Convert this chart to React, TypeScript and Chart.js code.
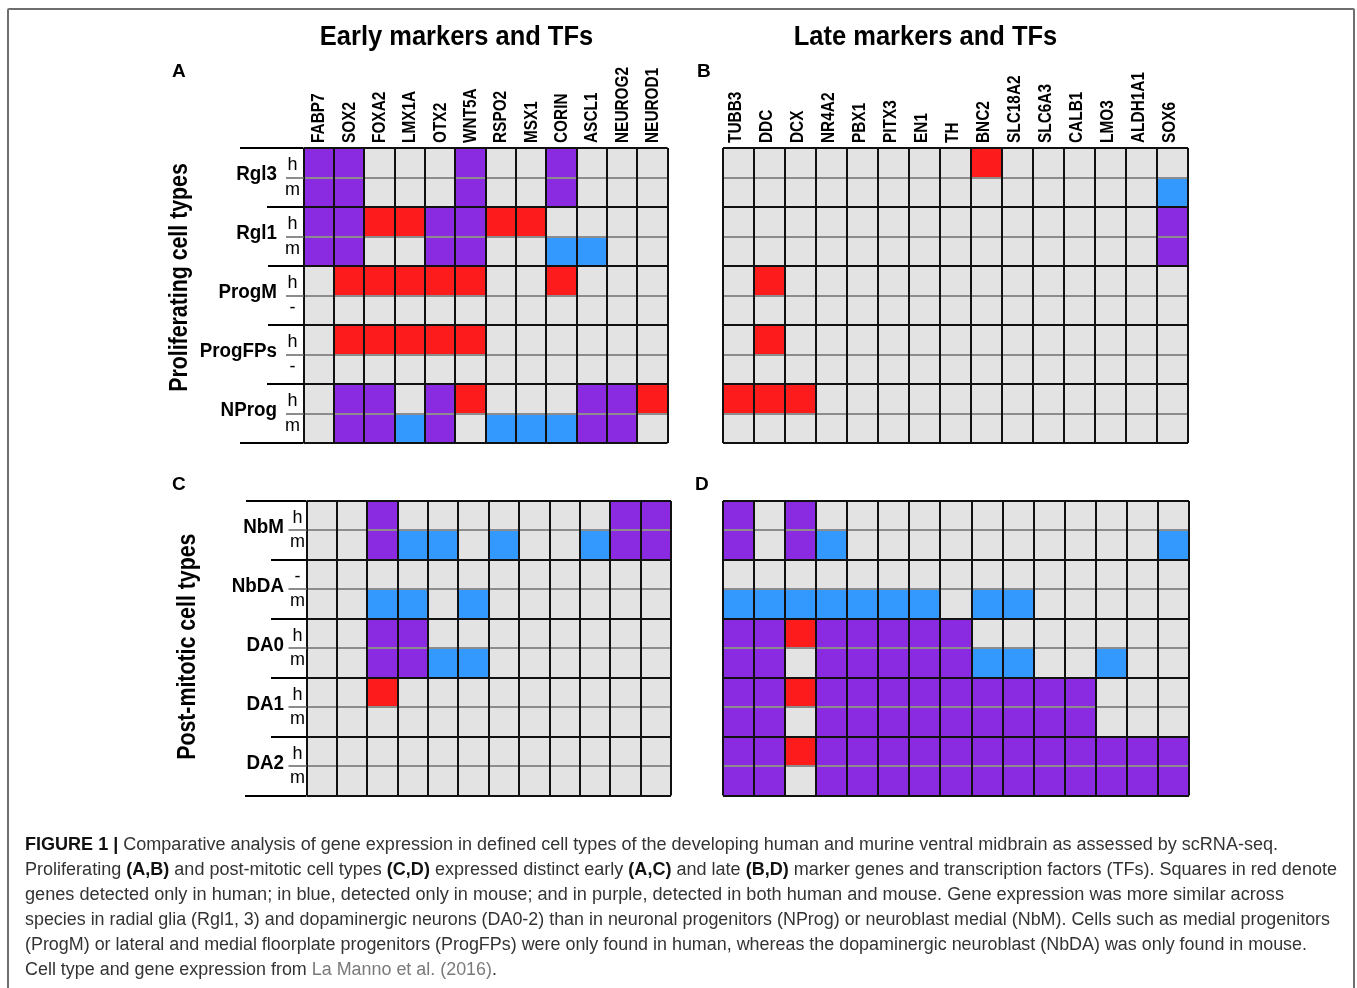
import React, { useEffect, useRef } from "react";
import { Chart, registerables } from "chart.js";
Chart.register(...registerables);

// ---------- data ----------
const earlyGenes = ["FABP7", "SOX2", "FOXA2", "LMX1A", "OTX2", "WNT5A", "RSPO2", "MSX1", "CORIN", "ASCL1", "NEUROG2", "NEUROD1"];
const lateGenes = ["TUBB3", "DDC", "DCX", "NR4A2", "PBX1", "PITX3", "EN1", "TH", "BNC2", "SLC18A2", "SLC6A3", "CALB1", "LMO3", "ALDH1A1", "SOX6"];

const proliferatingTypes = ["Rgl3", "Rgl1", "ProgM", "ProgFPs", "NProg"];
const proliferatingSpecies = ["h", "m", "h", "m", "h", "-", "h", "-", "h", "m"];
const postMitoticTypes = ["NbM", "NbDA", "DA0", "DA1", "DA2"];
const postMitoticSpecies = ["h", "m", "-", "m", "h", "m", "h", "m", "h", "m"];

// 0 = not detected, 1 = human only, 2 = mouse only, 3 = both
const earlyProliferating = [
  [3, 3, 0, 0, 0, 3, 0, 0, 3, 0, 0, 0],
  [3, 3, 0, 0, 0, 3, 0, 0, 3, 0, 0, 0],
  [3, 3, 1, 1, 3, 3, 1, 1, 0, 0, 0, 0],
  [3, 3, 0, 0, 3, 3, 0, 0, 2, 2, 0, 0],
  [0, 1, 1, 1, 1, 1, 0, 0, 1, 0, 0, 0],
  [0, 0, 0, 0, 0, 0, 0, 0, 0, 0, 0, 0],
  [0, 1, 1, 1, 1, 1, 0, 0, 0, 0, 0, 0],
  [0, 0, 0, 0, 0, 0, 0, 0, 0, 0, 0, 0],
  [0, 3, 3, 0, 3, 1, 0, 0, 0, 3, 3, 1],
  [0, 3, 3, 2, 3, 0, 2, 2, 2, 3, 3, 0],
];
const lateProliferating = [
  [0, 0, 0, 0, 0, 0, 0, 0, 1, 0, 0, 0, 0, 0, 0],
  [0, 0, 0, 0, 0, 0, 0, 0, 0, 0, 0, 0, 0, 0, 2],
  [0, 0, 0, 0, 0, 0, 0, 0, 0, 0, 0, 0, 0, 0, 3],
  [0, 0, 0, 0, 0, 0, 0, 0, 0, 0, 0, 0, 0, 0, 3],
  [0, 1, 0, 0, 0, 0, 0, 0, 0, 0, 0, 0, 0, 0, 0],
  [0, 0, 0, 0, 0, 0, 0, 0, 0, 0, 0, 0, 0, 0, 0],
  [0, 1, 0, 0, 0, 0, 0, 0, 0, 0, 0, 0, 0, 0, 0],
  [0, 0, 0, 0, 0, 0, 0, 0, 0, 0, 0, 0, 0, 0, 0],
  [1, 1, 1, 0, 0, 0, 0, 0, 0, 0, 0, 0, 0, 0, 0],
  [0, 0, 0, 0, 0, 0, 0, 0, 0, 0, 0, 0, 0, 0, 0],
];
const earlyPostMitotic = [
  [0, 0, 3, 0, 0, 0, 0, 0, 0, 0, 3, 3],
  [0, 0, 3, 2, 2, 0, 2, 0, 0, 2, 3, 3],
  [0, 0, 0, 0, 0, 0, 0, 0, 0, 0, 0, 0],
  [0, 0, 2, 2, 0, 2, 0, 0, 0, 0, 0, 0],
  [0, 0, 3, 3, 0, 0, 0, 0, 0, 0, 0, 0],
  [0, 0, 3, 3, 2, 2, 0, 0, 0, 0, 0, 0],
  [0, 0, 1, 0, 0, 0, 0, 0, 0, 0, 0, 0],
  [0, 0, 0, 0, 0, 0, 0, 0, 0, 0, 0, 0],
  [0, 0, 0, 0, 0, 0, 0, 0, 0, 0, 0, 0],
  [0, 0, 0, 0, 0, 0, 0, 0, 0, 0, 0, 0],
];
const latePostMitotic = [
  [3, 0, 3, 0, 0, 0, 0, 0, 0, 0, 0, 0, 0, 0, 0],
  [3, 0, 3, 2, 0, 0, 0, 0, 0, 0, 0, 0, 0, 0, 2],
  [0, 0, 0, 0, 0, 0, 0, 0, 0, 0, 0, 0, 0, 0, 0],
  [2, 2, 2, 2, 2, 2, 2, 0, 2, 2, 0, 0, 0, 0, 0],
  [3, 3, 1, 3, 3, 3, 3, 3, 0, 0, 0, 0, 0, 0, 0],
  [3, 3, 0, 3, 3, 3, 3, 3, 2, 2, 0, 0, 2, 0, 0],
  [3, 3, 1, 3, 3, 3, 3, 3, 3, 3, 3, 3, 0, 0, 0],
  [3, 3, 0, 3, 3, 3, 3, 3, 3, 3, 3, 3, 0, 0, 0],
  [3, 3, 1, 3, 3, 3, 3, 3, 3, 3, 3, 3, 3, 3, 3],
  [3, 3, 0, 3, 3, 3, 3, 3, 3, 3, 3, 3, 3, 3, 3],
];

const COLORS = ["#e3e3e3", "#fe1b1b", "#3399fe", "#8a2be2"];

// ---------- layout ----------
const W = 1357;
const H = 988;
const FONT = '"Liberation Sans", Arial, sans-serif';

type Panel = {
  genes: string[];
  matrix: number[][];
  grid: { l: number; t: number; r: number; b: number };
  letter: { text: string; x: number; y: number };
  title?: { text: string; x: number; y: number };
  showGenes?: boolean;
  geneDx?: number;
  types?: string[];
  species?: string[];
  labelRight?: number;
  hmX?: number;
  fracStart?: number;
  sepStarts?: number[];
  yTitle?: { text: string; x: number; cy: number };
};

const panels: Panel[] = [
  {
    genes: earlyGenes,
    matrix: earlyProliferating,
    grid: { l: 303.5, t: 148, r: 667.5, b: 443 },
    letter: { text: "A", x: 172, y: 77 },
    title: { text: "Early markers and TFs", x: 456.5, y: 45 },
    showGenes: true,
    geneDx: 5.5,
    types: proliferatingTypes,
    species: proliferatingSpecies,
    labelRight: 277,
    hmX: 292.5,
    fracStart: 286,
    sepStarts: [240, 267, 268, 268, 267, 240],
    yTitle: { text: "Proliferating cell types", x: 187, cy: 277.5 },
  },
  {
    genes: lateGenes,
    matrix: lateProliferating,
    grid: { l: 723, t: 148, r: 1188, b: 443 },
    letter: { text: "B", x: 697, y: 77 },
    title: { text: "Late markers and TFs", x: 925.5, y: 45 },
    showGenes: true,
    geneDx: 2.5,
  },
  {
    genes: earlyGenes,
    matrix: earlyPostMitotic,
    grid: { l: 306.5, t: 500.5, r: 671, b: 795.5 },
    letter: { text: "C", x: 172, y: 490 },
    types: postMitoticTypes,
    species: postMitoticSpecies,
    labelRight: 284,
    hmX: 297.5,
    fracStart: 288.5,
    sepStarts: [246, 271, 271, 271, 271, 245],
    yTitle: { text: "Post-mitotic cell types", x: 195.3, cy: 646.7 },
  },
  {
    genes: lateGenes,
    matrix: latePostMitotic,
    grid: { l: 723, t: 500.5, r: 1189, b: 795.5 },
    letter: { text: "D", x: 695, y: 490 },
  },
];

function txt(
  ctx: CanvasRenderingContext2D,
  s: string,
  x: number,
  y: number,
  font: string,
  sx: number,
  align: CanvasTextAlign,
  rot = 0,
  color = "#000"
) {
  ctx.save();
  ctx.translate(x, y);
  if (rot) ctx.rotate(rot);
  ctx.scale(sx, 1);
  ctx.font = font;
  ctx.textAlign = align;
  ctx.textBaseline = "alphabetic";
  ctx.fillStyle = color;
  ctx.fillText(s, 0, 0);
  ctx.restore();
}

function makePlugin(p: Panel) {
  return {
    id: "panelLabels",
    afterDraw(chart: any) {
      const ctx: CanvasRenderingContext2D = chart.ctx;
      const xs = chart.scales.x;
      const ys = chart.scales.y;
      const area = chart.chartArea;
      ctx.save();
      if (p.title) txt(ctx, p.title.text, p.title.x, p.title.y, `bold 28px ${FONT}`, 0.91, "center");
      txt(ctx, p.letter.text, p.letter.x, p.letter.y, `bold 19px ${FONT}`, 1, "left");
      if (p.showGenes) {
        p.genes.forEach((g, j) => {
          const cx = xs.getPixelForValue(j);
          txt(ctx, g, cx + (p.geneDx || 0), area.top - 5, `bold 19px ${FONT}`, 0.81, "left", -Math.PI / 2);
        });
      }
      if (p.types && p.species) {
        ctx.strokeStyle = "#000";
        ctx.lineWidth = 2;
        (p.sepStarts || []).forEach((sx, k) => {
          const y = Math.round(ys.getPixelForValue(2 * k));
          ctx.beginPath();
          ctx.moveTo(sx, y);
          ctx.lineTo(area.left, y);
          ctx.stroke();
        });
        p.types.forEach((t, g) => {
          const yd = ys.getPixelForValue(2 * g + 1);
          ctx.strokeStyle = "#8c8c8c";
          ctx.lineWidth = 2;
          ctx.beginPath();
          ctx.moveTo(p.fracStart!, Math.round(yd));
          ctx.lineTo(area.left, Math.round(yd));
          ctx.stroke();
          txt(ctx, t, p.labelRight!, yd + 2.5, `bold 20px ${FONT}`, 0.94, "right");
          const s0 = p.species![2 * g];
          const s1 = p.species![2 * g + 1];
          txt(ctx, s0, p.hmX!, yd - 7.5, `18px ${FONT}`, 1, "center");
          txt(ctx, s1, p.hmX!, yd + 17, `18px ${FONT}`, 1, "center");
        });
      }
      if (p.yTitle) {
        txt(ctx, p.yTitle.text, p.yTitle.x, p.yTitle.cy, `bold 26px ${FONT}`, 0.82, "center", -Math.PI / 2);
      }
      ctx.restore();
    },
  };
}

function HeatPanel({ p }: { p: Panel }) {
  const ref = useRef<HTMLCanvasElement>(null);
  useEffect(() => {
    const canvas = ref.current!;
    const chart = new Chart(canvas, {
      type: "bar",
      data: {
        labels: p.genes,
        datasets: p.matrix.map((row, i) => ({
          data: row.map(() => [i, i + 1]) as any,
          backgroundColor: row.map((c) => COLORS[c]),
          borderWidth: 0,
          grouped: false,
          barPercentage: 1,
          categoryPercentage: 1,
        })),
      },
      options: {
        animation: false,
        responsive: false,
        maintainAspectRatio: false,
        events: [],
        layout: {
          padding: { left: p.grid.l, top: p.grid.t, right: W - p.grid.r, bottom: H - p.grid.b },
        },
        plugins: { legend: { display: false }, tooltip: { enabled: false }, title: { display: false } },
        scales: {
          x: {
            type: "category",
            position: "top",
            offset: true,
            grid: { offset: true, color: "#111", lineWidth: 2, drawTicks: false, z: 2 },
            ticks: { display: false },
            border: { display: false },
          },
          y: {
            type: "linear",
            min: 0,
            max: 10,
            reverse: true,
            ticks: { display: false, stepSize: 1 },
            grid: {
              z: 1,
              drawTicks: false,
              lineWidth: 2,
              color: (c: any) => (c.tick && c.tick.value % 2 === 0 ? "#111" : "#8c8c8c"),
            },
            border: { display: false },
          },
        },
      } as any,
      plugins: [makePlugin(p)],
    });
    return () => chart.destroy();
  }, []);
  return (
    <canvas
      ref={ref}
      width={W}
      height={H}
      style={{ position: "absolute", left: 0, top: 0, width: W, height: H }}
    />
  );
}

// ---------- caption ----------
type Seg = [string, "r" | "b" | "l"];
const captionLines: Seg[][] = [
  [["FIGURE 1 | ", "b"], ["Comparative analysis of gene expression in defined cell types of the developing human and murine ventral midbrain as assessed by scRNA-seq.", "r"]],
  [
    ["Proliferating ", "r"], ["(A,B)", "b"], [" and post-mitotic cell types ", "r"], ["(C,D)", "b"],
    [" expressed distinct early ", "r"], ["(A,C)", "b"], [" and late ", "r"], ["(B,D)", "b"],
    [" marker genes and transcription factors (TFs). Squares in red denote", "r"],
  ],
  [["genes detected only in human; in blue, detected only in mouse; and in purple, detected in both human and mouse. Gene expression was more similar across", "r"]],
  [["species in radial glia (Rgl1, 3) and dopaminergic neurons (DA0-2) than in neuronal progenitors (NProg) or neuroblast medial (NbM). Cells such as medial progenitors", "r"]],
  [["(ProgM) or lateral and medial floorplate progenitors (ProgFPs) were only found in human, whereas the dopaminergic neuroblast (NbDA) was only found in mouse.", "r"]],
  [["Cell type and gene expression from ", "r"], ["La Manno et al. (2016)", "l"], [".", "r"]],
];
const captionWidths = [1253, 1312, 1259, 1305, 1282, 472];

export default function App() {
  const lineRefs = useRef<(HTMLSpanElement | null)[]>([]);
  useEffect(() => {
    const fit = () => {
      lineRefs.current.forEach((el, i) => {
        if (!el) return;
        el.style.transform = "";
        const w = el.getBoundingClientRect().width;
        if (w > 0) el.style.transform = `scaleX(${captionWidths[i] / w})`;
      });
    };
    fit();
    if ((document as any).fonts && (document as any).fonts.ready) (document as any).fonts.ready.then(fit);
  }, []);

  return (
    <div style={{ position: "absolute", left: 0, top: 0, width: W, height: H, background: "#fff", overflow: "hidden" }}>
      <div
        style={{
          position: "absolute",
          left: 7,
          top: 8,
          width: 1348,
          height: 1100,
          border: "2px solid #6e6e6e",
          borderRadius: 2,
          boxSizing: "border-box",
        }}
      />
      {panels.map((p, i) => (
        <HeatPanel key={i} p={p} />
      ))}
      <div style={{ position: "absolute", left: 25, top: 832, fontFamily: '"Liberation Sans", Arial, sans-serif', fontSize: 18, color: "#2b2b2b" }}>
        {captionLines.map((line, i) => (
          <div key={i} style={{ height: 25, lineHeight: "25px", whiteSpace: "nowrap" }}>
            <span
              ref={(el) => {
                lineRefs.current[i] = el;
              }}
              style={{ display: "inline-block", transformOrigin: "0 50%" }}
            >
              {line.map(([t, k], j) => (
                <span
                  key={j}
                  style={{
                    fontWeight: k === "b" ? 700 : 400,
                    color: k === "l" ? "#7a7a7a" : k === "b" ? "#111" : "#333",
                  }}
                >
                  {t}
                </span>
              ))}
            </span>
          </div>
        ))}
      </div>
    </div>
  );
}
